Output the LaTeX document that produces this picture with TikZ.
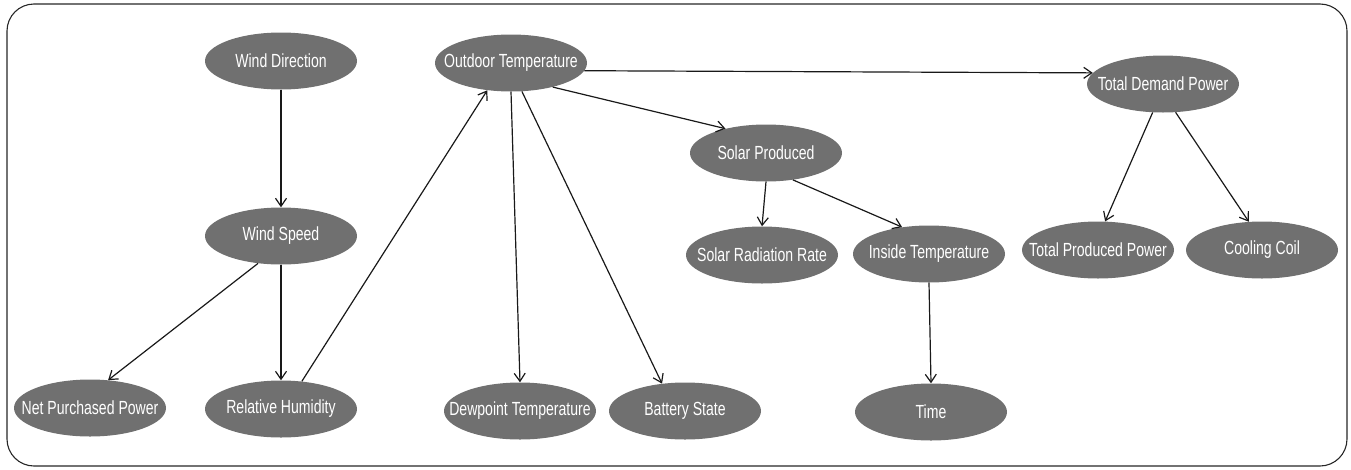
\documentclass[tikz,border=0pt]{standalone}
\usepackage{fontspec}
\newfontfamily\nodefont{Liberation Sans}[FakeStretch=0.74]
\usetikzlibrary{arrows.meta,shapes.geometric}
\definecolor{nodegray}{HTML}{707070}
\begin{document}
\begin{tikzpicture}[x=1pt,y=-1pt,
  var/.style={ellipse,fill=nodegray,draw=none,minimum width=152pt,minimum height=57pt,inner sep=0pt,
    text=white,font=\nodefont\fontsize{19}{21}\selectfont},
  link/.style={draw=black!90,line width=1.2pt,-{Straight Barb[length=8pt,width=11pt,line width=1.2pt]}},
  frame/.style={draw=black!85,line width=1.1pt,rounded corners=27pt}]
\useasboundingbox (0,0) rectangle (1351,469);
\draw[frame] (7,4) rectangle (1347,466);

\node[var] (wd) at (281,61) {\makebox[0pt]{Wind Direction}};
\node[var] (ws) at (281,236) {\makebox[0pt]{Wind Speed}};
\node[var] (npp) at (90,408) {\makebox[0pt]{Net Purchased Power}};
\node[var] (rh) at (281,409) {\makebox[0pt]{Relative Humidity}};
\node[var] (ot) at (511,63) {\makebox[0pt]{Outdoor Temperature}};
\node[var] (dew) at (520,411) {\makebox[0pt]{Dewpoint Temperature}};
\node[var] (bs) at (685,411) {\makebox[0pt]{Battery State}};
\node[var] (sp) at (766,153) {\makebox[0pt]{Solar Produced}};
\node[var] (srr) at (762,255) {\makebox[0pt]{Solar Radiation Rate}};
\node[var] (it) at (929,254) {\makebox[0pt]{Inside Temperature}};
\node[var] (tm) at (931,412) {\makebox[0pt]{Time}};
\node[var] (tdp) at (1163,84) {\makebox[0pt]{Total Demand Power}};
\node[var] (tpp) at (1098,250) {\makebox[0pt]{Total Produced Power}};
\node[var] (cc) at (1262,250) {\makebox[0pt]{Cooling Coil}};

\draw[link] (wd.south) -- (ws.north);
\draw[link] (ws.230) -- (npp.57);
\draw[link] (ws.south) -- (rh.north);
\draw[link] (rh.53) -- (ot.229);
\draw[link] (ot.south) -- (dew.north);
\draw[link] (ot.291) -- (bs.130);
\draw[link] (ot.330) -- (sp.149);
\draw[link] (ot.354) -- (tdp.171);
\draw[link] (sp.south) -- (srr.north);
\draw[link] (sp.315) -- (it.135);
\draw[link] (it.south) -- (tm.north);
\draw[link] (tdp.250) -- (tpp.76);
\draw[link] (tdp.294) -- (cc.115);
\end{tikzpicture}
\end{document}
